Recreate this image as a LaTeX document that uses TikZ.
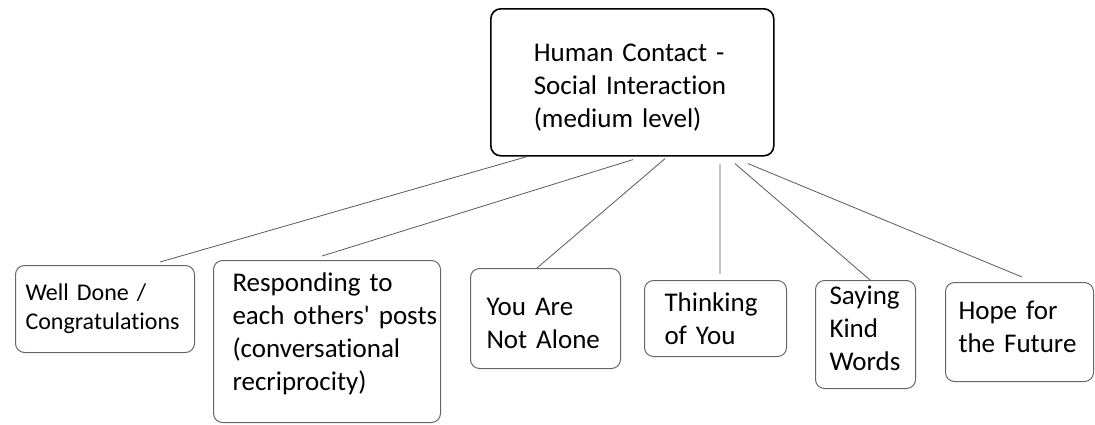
\documentclass[tikz,border=0pt]{standalone}
\usepackage{fontspec}
\setmainfont{Carlito}[Ligatures=NoCommon]

\begin{document}
\begin{tikzpicture}[
				x=1bp, y=-1bp,
				% boxes and connectors
				topbox/.style={draw=black, line width=1.6bp, rounded corners=10bp, anchor=north west,
					align=left, inner ysep=0pt, font=\fontsize{27bp}{33bp}\selectfont},
				subbox/.style={draw=black!60, line width=1bp, rounded corners=9bp, anchor=north west,
					align=left, inner ysep=0pt, font=\fontsize{27bp}{33bp}\selectfont},
				link/.style={draw=black!65, line width=0.8bp}
				]
				
				% ----- 0. page size -----
				\useasboundingbox (0,0) rectangle (1095,424);
				
				% ----- 1. top box -----
				\node[topbox, inner xsep=43bp, text width=197bp, minimum height=147bp] (top) at (490,8)
					{\rule{0pt}{28bp}Human Contact -\\\mbox{Social Interaction}\\(medium level)};
				
				% ----- 2. lower boxes -----
				\node[subbox, inner xsep=10bp, text width=159bp, minimum height=87bp,
					font=\fontsize{24bp}{29bp}\selectfont] (well) at (15,265)
					{Well Done /\\Congratulations};
				\node[subbox, inner xsep=19bp, text width=189bp, minimum height=162bp] (resp) at (213,260)
					{Responding to\\\mbox{each others\textquotesingle{} posts}\\(conversational\\recriprocity)\rule[-20bp]{0pt}{0pt}};
				\node[subbox, inner xsep=16bp, text width=118bp, minimum height=100bp] (yana) at (470,268)
					{\rule{0pt}{28bp}You Are\\Not Alone};
				\node[subbox, inner xsep=20bp, text width=102bp, minimum height=76bp] (think) at (644,280)
					{Thinking\\of You};
				\node[subbox, inner xsep=14bp, text width=72bp, minimum height=108bp] (saying) at (815,280)
					{Saying\\Kind\\\mbox{Words}\rule[-13bp]{0pt}{0pt}};
				\node[subbox, inner xsep=13bp, text width=122bp, minimum height=99bp] (hope) at (945,282)
					{Hope for\\the Future\rule[-10bp]{0pt}{0pt}};
				
				% ----- 3. connectors -----
				\draw[link] ([xshift=37bp]top.south west) -- ([xshift=145bp, yshift=3bp]well.north west);
				\draw[link] ([xshift=143bp, yshift=-3bp]top.south west) -- ([xshift=109bp, yshift=4bp]resp.north west);
				\draw[link] ([xshift=175bp, yshift=-2bp]top.south west) -- ([xshift=67bp]yana.north west);
				\draw[link] ([xshift=230bp, yshift=-7bp]top.south west) -- ([xshift=76bp, yshift=6bp]think.north west);
				\draw[link] ([xshift=245bp, yshift=-7bp]top.south west) -- ([xshift=55bp]saying.north west);
				\draw[link] ([xshift=258bp, yshift=-7bp]top.south west) -- ([xshift=77bp, yshift=5bp]hope.north west);
				
			\end{tikzpicture}
\end{document}
